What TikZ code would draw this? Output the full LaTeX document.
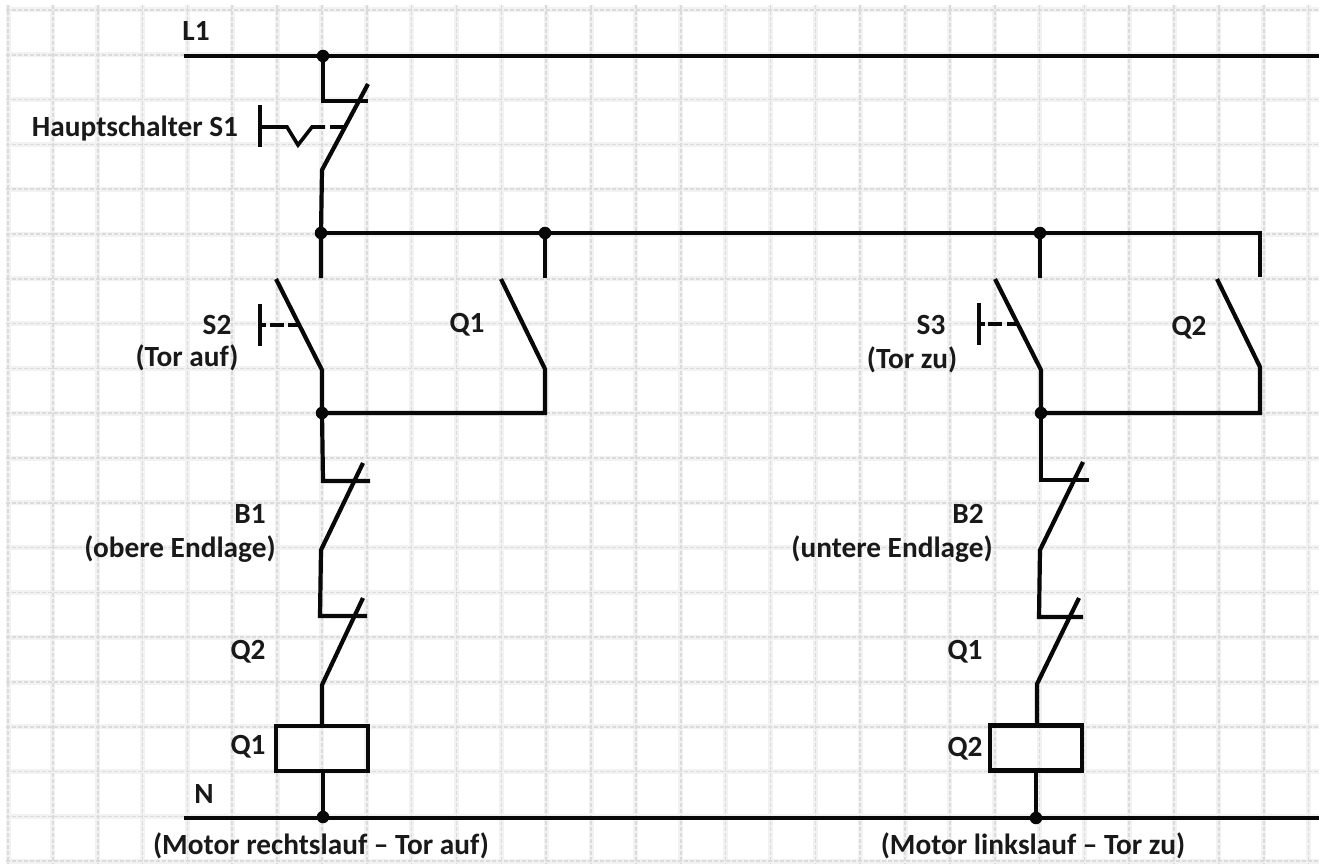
\documentclass[tikz,border=0pt]{standalone}
\usepackage{fontspec}
\setmainfont{Carlito}
\definecolor{gridc}{gray}{0.86}
\definecolor{gridw}{gray}{0.95}
\definecolor{wire}{gray}{0.03}
\tikzset{
  gridwide/.style={draw=gridw,line width=5pt},
  gridline/.style={draw=gridc,line width=1.6pt,dash pattern=on 4pt off 2pt},
  wireline/.style={draw=wire,line width=4.2pt,line cap=butt,line join=miter},
  thinwire/.style={draw=wire,line width=3.6pt,line join=miter},
  dashline/.style={draw=wire,line width=3.6pt},
  junction/.style={circle,fill=wire,inner sep=0pt,minimum size=12.5pt},
  lbl/.style={font=\fontsize{29.3}{34}\selectfont\bfseries,text=black!90,inner sep=0pt,align=center},
  coil/.style={draw=wire,line width=4.2pt,fill=none,minimum width=92pt,minimum height=45pt,inner sep=0pt}
}
\begin{document}
\begin{tikzpicture}[x=1pt,y=-1pt]
\useasboundingbox (0,0) rectangle (1319,864);
\fill[white] (0,0) rectangle (1319,864);
% grid
\foreach \i in {0,...,29} \draw[gridwide] ({8+44.85*\i},5) -- ({8+44.85*\i},864);
\foreach \j in {0,...,19} \draw[gridwide] (6,{10+44.8*\j}) -- (1319,{10+44.8*\j});
\foreach \i in {0,...,29} \draw[gridline] ({8+44.85*\i},5) -- ({8+44.85*\i},864);
\foreach \j in {0,...,19} \draw[gridline] (6,{10+44.8*\j}) -- (1319,{10+44.8*\j});
% named points
\coordinate (l1s) at (184,56); \coordinate (l1e) at (1319,56);
\coordinate (ns) at (184,818); \coordinate (ne) at (1319,818);
\node[junction] (jl1) at (323,56) {};
\node[junction] (jb) at (321,233) {};
\node[junction] (jb2) at (545,233) {};
\node[junction] (jb3) at (1040,233) {};
\coordinate (bend) at (1260,233);
\node[junction] (ja) at (322,413) {};
\node[junction] (jc) at (1041,413) {};
\node[junction] (jn1) at (323,817) {};
\node[junction] (jn2) at (1036,818) {};
% rails
\draw[wireline] (l1s) -- (l1e);
\draw[wireline] (ns) -- (ne);
\draw[wireline] (jb.center) -- (bend) -- (1260,277);
% S1
\draw[wireline] (jl1.center) -- (323,101) -- (368,101);
\draw[wireline] (368,84) -- (322,170) -- (321,233) -- (321,278);
\draw[thinwire] (260,105) -- (260,147);
\draw[thinwire] (260,127) -- (287,127) -- (298,145) -- (312,127) -- (325,127);
\draw[dashline] (330,127) -- (344,127);
% S2 & Q1 left
\draw[wireline] (276,279) -- (322,370) -- (ja.center);
\draw[thinwire] (260,304) -- (260,346);
\draw[dashline] (260,325) -- (266,325);
\draw[dashline] (270,325) -- (284,325);
\draw[dashline] (288,325) -- (301,325);
\draw[wireline] (jb2.center) -- (545,278);
\draw[wireline] (501,279) -- (545,369) -- (545,413) -- (ja.center);
% B1, Q2, coil left
\draw[wireline] (ja.center) -- (323,481) -- (370,481);
\draw[wireline] (363,463) -- (321,550) -- (320,616) -- (367,616);
\draw[wireline] (363,598) -- (322,685) -- (322,726);
\node[coil] (k1) at (322,748.5) {};
\draw[wireline] (jn1.center) -- (jn1.center |- k1.south);
% S3 & Q2 right
\draw[wireline] (jb3.center) -- (1040,278);
\draw[wireline] (995,279) -- (1041,370) -- (jc.center);
\draw[thinwire] (979,303) -- (979,345);
\draw[dashline] (979,324) -- (985,324);
\draw[dashline] (988,324) -- (1002,324);
\draw[dashline] (1007,324) -- (1019,324);
\draw[wireline] (1217,279) -- (1260,367) -- (1260,413) -- (jc.center);
% B2, Q1, coil right
\draw[wireline] (jc.center) -- (1041,480) -- (1089,480);
\draw[wireline] (1083,462) -- (1040,550) -- (1039,617) -- (1083,617);
\draw[wireline] (1079,598) -- (1037,684) -- (1037,726);
\node[coil] (k2) at (1036,748) {};
\draw[wireline] (jn2.center) -- (jn2.center |- k2.south);
% labels
\node[lbl] (tl1) at (196,31) {L1};
\node[lbl] (ts1) at (135,129) {Hauptschalter S1};
\node[lbl] (ts2) at (217,325) {S2};
\node[lbl] (tta) at (187,358) {(Tor auf)};
\node[lbl] (tq1) at (467,325) {Q1};
\node[lbl] (ts3) at (931,325) {S3};
\node[lbl] (ttz) at (912,360) {(Tor zu)};
\node[lbl] (tq2) at (1189,328) {Q2};
\node[lbl] (tb1) at (250,514) {B1};
\node[lbl] (tob) at (180,549) {(obere Endlage)};
\node[lbl] (tb2) at (968,514) {B2};
\node[lbl] (tun) at (892,549) {(untere Endlage)};
\node[lbl] (tq2l) at (248,652) {Q2};
\node[lbl] (tq1r) at (965,652) {Q1};
\node[lbl] (tq1l) at (248,747) {Q1};
\node[lbl] (tq2r) at (965,749) {Q2};
\node[lbl] (tn) at (204,794) {N};
\node[lbl] (tm1) at (321,846) {(Motor rechtslauf -- Tor auf)};
\node[lbl] (tm2) at (1033,846) {(Motor linkslauf -- Tor zu)};
\end{tikzpicture}
\end{document}
